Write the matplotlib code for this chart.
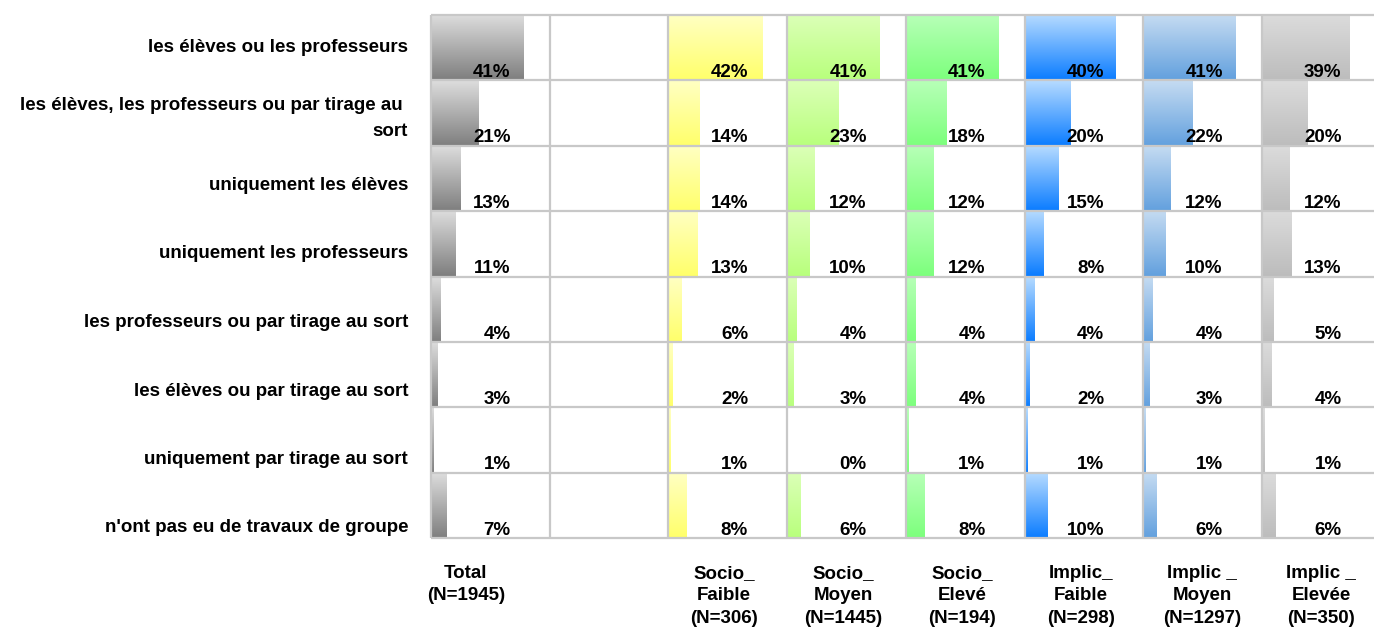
import numpy as np
import matplotlib
matplotlib.use("Agg")
import matplotlib.pyplot as plt
from matplotlib.colors import LinearSegmentedColormap

plt.rcParams['font.family'] = ['Liberation Sans', 'DejaVu Sans']
plt.rcParams['font.weight'] = 'bold'

# categories (rows, top to bottom)
rows = [
    "les élèves ou les professeurs",
    "les élèves, les professeurs ou par tirage au \nsort",
    "uniquement les élèves",
    "uniquement les professeurs",
    "les professeurs ou par tirage au sort",
    "les élèves ou par tirage au sort",
    "uniquement par tirage au sort",
    "n'ont pas eu de travaux de groupe",
]

# column headers (None = empty spacer column)
headers = ["Total\n(N=1945)", None, "Socio_\nFaible\n(N=306)", "Socio_\nMoyen\n(N=1445)",
           "Socio_\nElevé\n(N=194)", "Implic_\nFaible\n(N=298)", "Implic _\nMoyen\n(N=1297)",
           "Implic _\nElevée\n(N=350)"]

# values in %
total = [41, 21, 13, 11, 4, 3, 1, 7]
socio_faible = [42, 14, 14, 13, 6, 2, 1, 8]
socio_moyen = [41, 23, 12, 10, 4, 3, 0, 6]
socio_eleve = [41, 18, 12, 12, 4, 4, 1, 8]
implic_faible = [40, 20, 15, 8, 4, 2, 1, 10]
implic_moyen = [41, 22, 12, 10, 4, 3, 1, 6]
implic_elevee = [39, 20, 12, 13, 5, 4, 1, 6]

columns = [total, None, socio_faible, socio_moyen, socio_eleve,
           implic_faible, implic_moyen, implic_elevee]

# gradient colours (top, bottom) for each column
grads = [("#dedede", "#7e7e7e"), None, ("#ffffc4", "#ffff6a"), ("#dcffb8", "#b8ff7c"),
         ("#b8ffb8", "#7cff7c"), ("#b8dcff", "#0a7cff"), ("#c6dcf2", "#62a0de"),
         ("#dcdcdc", "#bcbcbc")]

W = 52.75  # width of one column in %
n_rows = len(rows)
n_cols = len(columns)

fig = plt.figure(figsize=(13.74, 6.27), dpi=100)
ax = fig.add_axes([431 / 1374, 1 - 538 / 627, n_cols * 118.7 / 1374, 523 / 627])
ax.set_xlim(0, n_cols * W)
ax.set_ylim(n_rows, 0)
ax.axis('off')

grad = np.linspace(0, 1, 256).reshape(-1, 1)
for j, vals in enumerate(columns):
    if vals is None:
        continue
    cmap = LinearSegmentedColormap.from_list(f"g{j}", grads[j])
    bars = ax.barh(np.arange(n_rows) + 0.5, vals, height=1.0, left=j * W,
                   color='none', edgecolor='none')
    for i, (bar, v) in enumerate(zip(bars, vals)):
        x0 = bar.get_x()
        im = ax.imshow(grad, cmap=cmap, aspect='auto', origin='upper',
                       extent=(x0, x0 + max(v, 0.3), i + 1, i), zorder=1)
        if v > 0:
            im.set_clip_path(bar)
        ax.text(j * W + 35.4, i + 1 - 0.05, f"{v}%", ha='right', va='baseline',
                fontsize=13.5, fontweight='bold', color='black', zorder=3)

# grid
for i in range(n_rows + 1):
    ax.plot([0, n_cols * W], [i, i], color='#c8c8c8', lw=1.6, zorder=2,
            solid_capstyle='butt', clip_on=False)
for j in range(n_cols):
    ax.plot([j * W, j * W], [0, n_rows], color='#c8c8c8', lw=1.6, zorder=2,
            solid_capstyle='butt', clip_on=False)
ax.set_xlim(0, n_cols * W)
ax.set_ylim(n_rows, 0)

# row labels
label_y = [47, 118.5, 186, 254, 322, 391, 460, 527]
for lab, yc in zip(rows, label_y):
    fig.text(408 / 1374, 1 - yc / 627, lab, ha='right', va='center',
             fontsize=13.5, fontweight='bold', linespacing=1.75, multialignment='right')

# column headers
head_x = [466, None, 724, 843, 962, 1081, 1202, 1321]
for h, hx in zip(headers, head_x):
    if h is None:
        continue
    fig.text(hx / 1374, 1 - 565 / 627, h, ha='center', va='top',
             fontsize=13.5, fontweight='bold', linespacing=1.42)

fig.savefig("out.png", dpi=100)
